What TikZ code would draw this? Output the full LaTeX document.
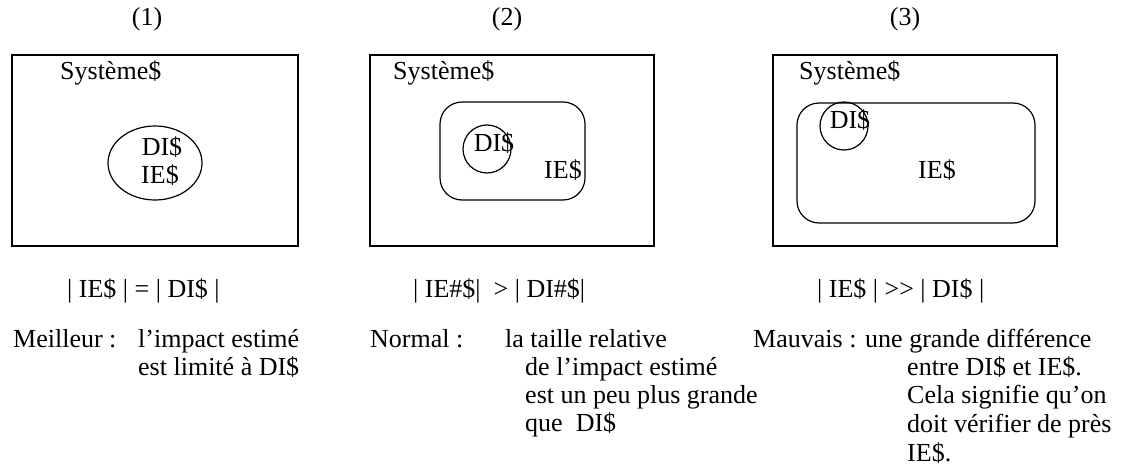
\documentclass[tikz,border=0pt]{standalone}
\usepackage{fontspec}
\setmainfont{Liberation Serif}
\begin{document}
\begin{tikzpicture}[x=1pt,y=-1pt,
  txt/.style={inner sep=0pt,anchor=base west,font=\fontsize{26}{30}\selectfont},
  ctxt/.style={inner sep=0pt,anchor=center,font=\fontsize{26}{30}\selectfont},
  sysbox/.style={draw,line width=1.5pt},
  inner/.style={draw,line width=1.2pt}]
\useasboundingbox (0,0) rectangle (1127,468);
% titles
\node[txt,anchor=base] (t1) at (147,26) {(1)};
\node[txt,anchor=base] (t2) at (507,26) {(2)};
\node[txt,anchor=base] (t3) at (905,26) {(3)};
% panel 1
\draw[sysbox] (12,55) rectangle (298,246);
\node[txt] (s1) at (60,80) {Système\$};
\draw[inner] (155,163) ellipse [x radius=47, y radius=37];
\node[ctxt] (di1) at (162,147) {DI\$};
\node[ctxt] (ie1) at (160,175) {IE\$};
% panel 2
\draw[sysbox] (370,55) rectangle (654,246);
\node[txt] (s2) at (393,80) {Système\$};
\draw[inner,rounded corners=22pt] (440,102) rectangle (585,200);
\draw[inner] (487,149) circle [radius=24];
\node[ctxt] (di2) at (494,143) {DI\$};
\node[ctxt] (ie2) at (563,170) {IE\$};
% panel 3
\draw[sysbox] (773,55) rectangle (1057,246);
\node[txt] (s3) at (799,80) {Système\$};
\draw[inner,rounded corners=22pt] (797,103) rectangle (1035,223);
\draw[inner] (844,126) circle [radius=24];
\node[ctxt] (di3) at (850,120) {DI\$};
\node[ctxt] (ie3) at (937,170) {IE\$};
% formulas
\node[txt] (f1) at (67,297) {| IE\$ | = | DI\$ |};
\node[txt] (f2) at (413,297) {| IE\#\$|\ \ > | DI\#\$|};
\node[txt] (f3) at (817,297) {| IE\$ | >{}> | DI\$ |};
% descriptions
\node[txt] (m1) at (13,347) {Meilleur :};
\node[txt] (m1a) at (138,347) {l’impact estimé};
\node[txt] (m1b) at (138,375) {est limité à DI\$};
\node[txt] (m2) at (370,347) {Normal :};
\node[txt] (m2a) at (505,347) {la taille relative};
\node[txt] (m2b) at (525,375) {de l’impact estimé};
\node[txt] (m2c) at (525,403) {est un peu plus grande};
\node[txt] (m2d) at (525,431) {que\ \ DI\$};
\node[txt] (m3) at (753,347) {Mauvais :};
\node[txt] (m3a) at (865,347) {une grande différence};
\node[txt] (m3b) at (907,375) {entre DI\$ et IE\$.};
\node[txt] (m3c) at (907,403) {Cela signifie qu’on};
\node[txt] (m3d) at (907,432) {doit vérifier de près};
\node[txt] (m3e) at (907,461) {IE\$.};
\end{tikzpicture}
\end{document}
